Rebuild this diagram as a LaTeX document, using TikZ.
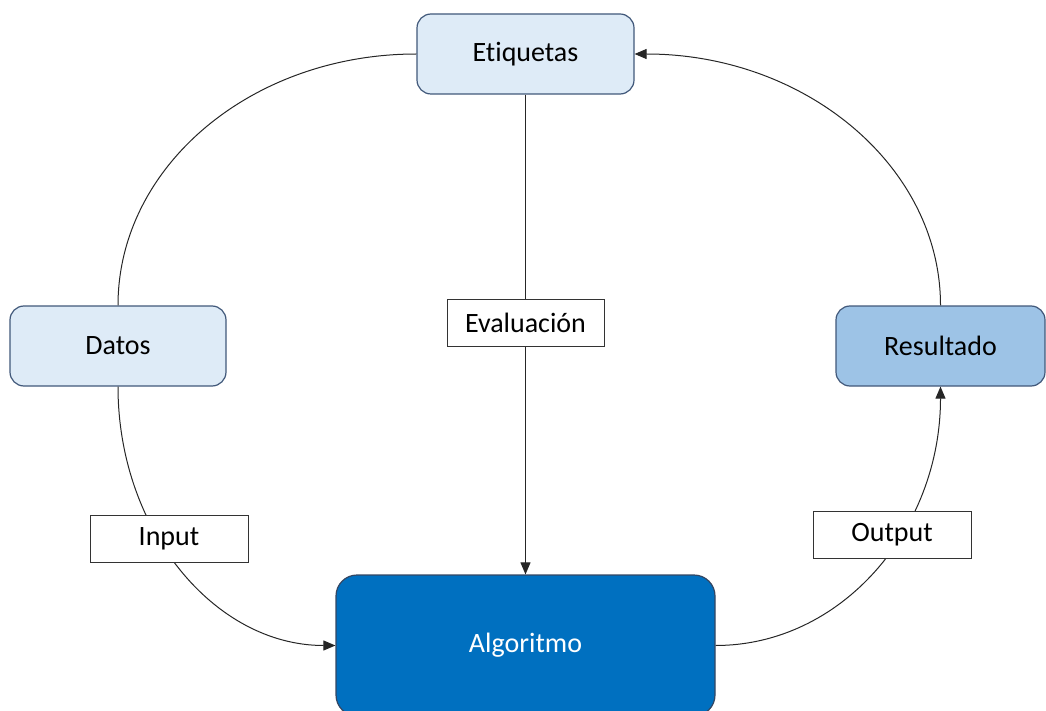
\documentclass[tikz,border=0pt]{standalone}
\usepackage{fontspec}
\setmainfont{Carlito}[Ligatures={NoCommon}]
\usetikzlibrary{arrows.meta}

\definecolor{paleblue}{HTML}{DEEBF7}
\definecolor{midblue}{HTML}{9DC3E6}
\definecolor{deepblue}{HTML}{0070C0}
\definecolor{edgeblue}{HTML}{41587A}
\definecolor{wire}{HTML}{262626}

\tikzset{
  box/.style={rectangle, rounded corners=14pt, draw=edgeblue, line width=1.2pt,
    fill=paleblue, inner sep=0pt, text=black,
    font=\fontsize{28}{34}\selectfont},
  tag/.style={rectangle, draw=black!80, line width=1pt, fill=white, inner sep=0pt,
    font=\fontsize{28}{34}\selectfont},
  wireline/.style={draw=wire, line width=1pt},
  arr/.style={wireline, -{Triangle[length=12pt,width=10pt]}}
}

\begin{document}
\begin{tikzpicture}[x=1pt,y=-1pt]
  \clip (0,0) rectangle (1046,711);

  % main boxes
  \node[box, minimum width=217pt, minimum height=80pt] (eti) at (525.5,54) {\raisebox{-2pt}{Etiquetas}};
  \node[box, minimum width=216pt, minimum height=80pt] (dat) at (118,346) {\raisebox{-2pt}{Datos}};
  \node[box, fill=midblue, minimum width=209pt, minimum height=80pt] (res) at (940.5,346) {\raisebox{-2pt}{Resultado}};
  \node[box, fill=deepblue, draw=edgeblue!80!black, rounded corners=21pt, text=white,
        minimum width=379pt, minimum height=141pt] (alg) at (525.5,645.5) {\raisebox{-2pt}{Algoritmo}};

  % connectors
  \draw[wireline] (dat.north) .. controls +(0,-139) and +(-165,0) .. (eti.west);
  \draw[arr] (dat.south) .. controls +(0,143) and +(-121,0) .. (alg.west);
  \draw[arr] (alg.east) .. controls +(126,0) and +(0,143) .. (res.south);
  \draw[arr] (res.north) .. controls +(0,-139) and +(171,0) .. (eti.east);
  \draw[arr] (eti.south) -- (alg.north);

  % edge labels
  \node[tag, minimum width=157pt, minimum height=47pt] (eval) at (525.5,322.5) {\raisebox{-2pt}{Evaluación}};
  \node[tag, minimum width=158pt, minimum height=47pt] (inp) at (169,538.5) {\raisebox{-2pt}{Input}};
  \node[tag, minimum width=158pt, minimum height=47pt] (out) at (892,534.5) {\raisebox{-2pt}{Output}};
\end{tikzpicture}
\end{document}
